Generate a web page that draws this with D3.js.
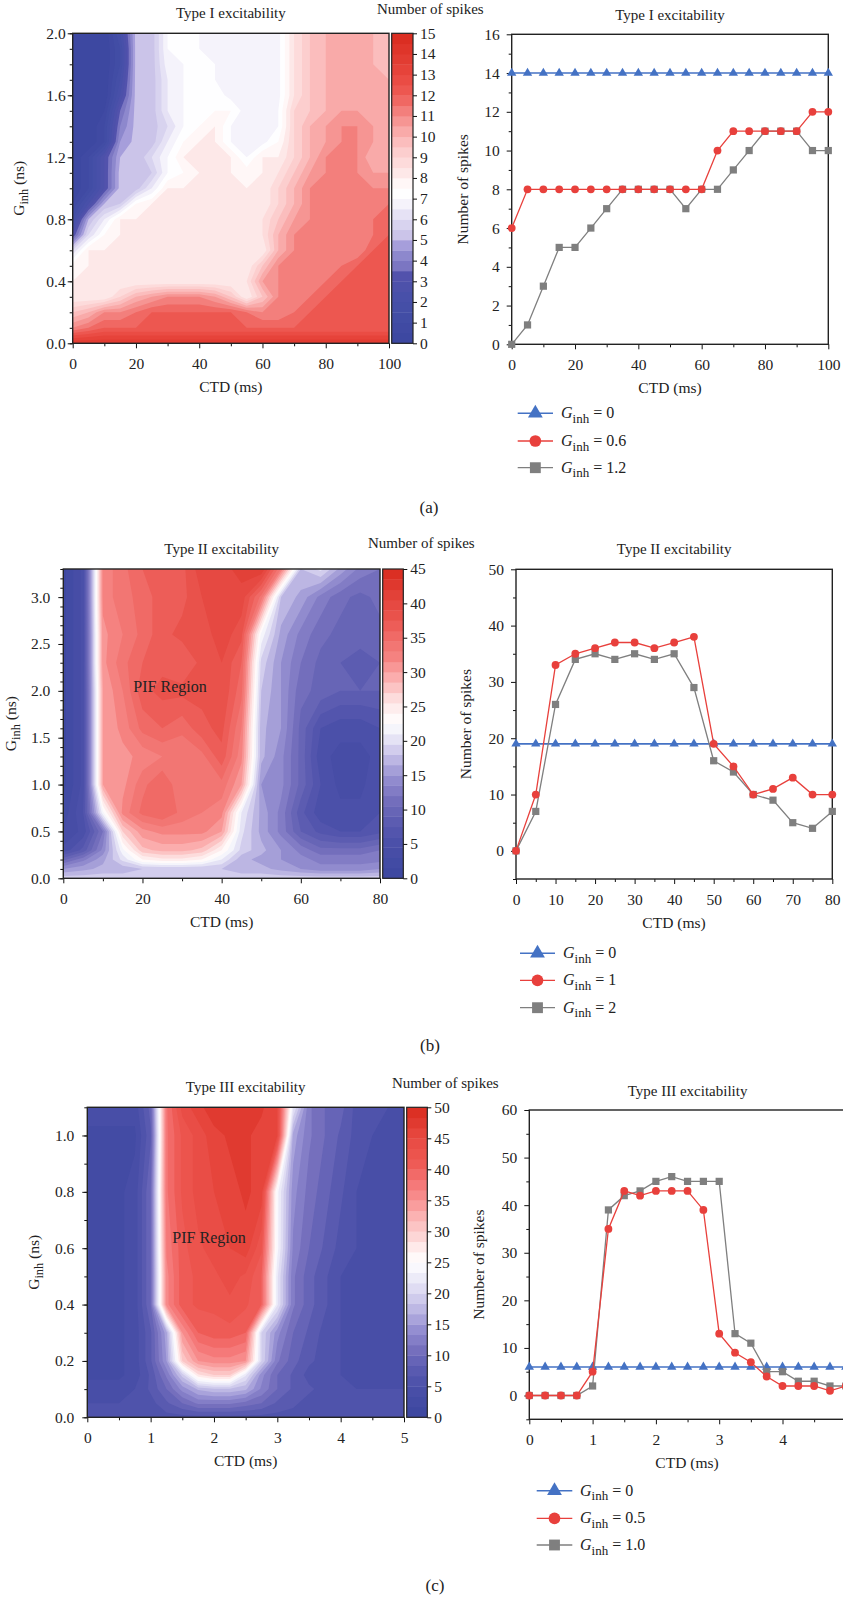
<!DOCTYPE html>
<html>
<head>
<meta charset="utf-8">
<script src="https://cdn.jsdelivr.net/npm/d3@7"></script>
<style>
  body { margin: 0; background: #fff; }
  svg { display: block; }
</style>
</head>
<body>
<svg id="fig" width="843" height="1600"></svg>
<script>
// ---------- Panel (a): Type I excitability ----------
const ctdA = [0, 5, 10, 15, 20, 25, 30, 35, 40, 45, 50, 55, 60, 65, 70, 75, 80, 85, 90, 95, 100];
const spikesA_0 = [14, 14, 14, 14, 14, 14, 14, 14, 14, 14, 14, 14, 14, 14, 14, 14, 14, 14, 14, 14, 14];
const spikesA_06 = [6, 8, 8, 8, 8, 8, 8, 8, 8, 8, 8, 8, 8, 10, 11, 11, 11, 11, 11, 12, 12];
const spikesA_12 = [0, 1, 3, 5, 5, 6, 7, 8, 8, 8, 8, 7, 8, 8, 9, 10, 11, 11, 11, 10, 10];
const ginhA = [0, 0.1, 0.2, 0.3, 0.4, 0.5, 0.6, 0.7, 0.8, 0.9, 1.0, 1.1, 1.2, 1.3, 1.4, 1.5, 1.6, 1.7, 1.8, 1.9, 2.0];
const heatA = [
  [14, 14, 14, 14, 14, 14, 14, 14, 14, 14, 14, 14, 14, 14, 14, 14, 14, 14, 14, 14, 14],
  [11, 11.5, 12, 12, 12, 12, 12, 12, 12, 12, 12, 12, 12, 12, 12, 12, 12, 12, 12, 12, 12],
  [9.5, 10, 11, 11, 11.5, 12, 12, 12, 12, 12, 12, 11.5, 11, 11, 11.5, 12, 12, 12, 12, 12, 12],
  [8, 8, 8, 9, 10, 10.5, 11, 11, 11, 10.5, 9.5, 8, 9.5, 11, 11, 11.5, 12, 12, 12, 12, 12],
  [8, 8, 8, 8, 8, 8, 8, 8, 8, 8, 8, 8.5, 10.5, 11, 11, 11, 11.5, 12, 12, 12, 12],
  [7.8, 8, 8, 8, 8, 8, 8, 8, 8, 8, 8, 8, 9.5, 11, 11, 11, 11, 11.5, 12, 12, 12],
  [6, 8, 8, 8, 8, 8, 8, 8, 8, 8, 8, 8, 8, 10, 11, 11, 11, 11, 11, 12, 12],
  [3, 6, 7.5, 8, 8, 8, 8, 8, 8, 8, 8, 8, 8.5, 10, 11, 11, 11, 11, 11, 11.5, 12],
  [1.5, 5, 6.5, 8, 8, 8, 8, 8, 8, 8, 8, 8, 8.5, 9.5, 10.5, 11, 11, 11, 11, 11.5, 12],
  [0.5, 2.5, 5, 5.5, 7.5, 8, 8, 8, 8, 8, 8, 8, 8, 9, 10, 11, 11, 11, 11, 11, 11.5],
  [0, 1, 3, 5.2, 5.2, 6.5, 8, 8, 8, 8, 8, 8, 8, 9, 10, 11, 11, 11, 11, 11, 11],
  [0, 1, 3, 5.2, 5.2, 5.5, 7, 7.5, 8, 8, 8, 7.8, 8, 8.5, 9.5, 10.5, 11, 11, 11, 10.5, 10.5],
  [0, 1, 3, 5, 5, 6, 7, 8, 8, 8, 8, 7, 8, 8, 9, 10, 11, 11, 11, 10, 10],
  [0, 0, 1, 4.5, 5.2, 5.2, 6.5, 7.5, 8, 8, 7, 6.8, 6.8, 7.5, 9, 10, 10.5, 11, 11, 10.5, 10],
  [0, 0, 1, 4, 5.2, 5.2, 6, 7, 7.5, 8, 7, 6.7, 6.7, 7, 9, 10, 10.5, 11, 11, 10.5, 10],
  [0, 0, 0.5, 3.5, 5.2, 5.2, 6.5, 7, 7, 7.5, 7.5, 6.7, 6.7, 7, 9, 9.5, 10, 10.5, 10.5, 10, 10],
  [0, 0, 0, 2.5, 5.2, 5.2, 6.5, 7, 7, 7.3, 6.8, 6.7, 6.7, 6.8, 8.5, 9.5, 10, 10, 10, 10, 10],
  [0, 0, 0, 2, 5.2, 5.2, 6.5, 7, 7, 7, 6.8, 6.7, 6.7, 6.8, 8.5, 9.5, 10, 10, 10, 10, 10],
  [0, 0, 0, 1.5, 5.2, 5.2, 6.8, 7, 7, 7, 6.8, 6.7, 6.7, 6.8, 8.5, 9.5, 10, 10.3, 10.3, 10, 9.5],
  [0, 0, 0, 1.5, 5.2, 5.2, 7, 7, 7, 6.9, 6.8, 6.7, 6.7, 6.8, 8.5, 9.5, 10, 10.3, 10.3, 10, 9.5],
  [0, 0, 0, 2, 5.2, 5.2, 7, 7, 7, 6.9, 6.8, 6.7, 6.7, 6.8, 8.5, 9.5, 10, 10.3, 10.3, 10, 9.5]
];
const cbStopsA = [0, 2, 3.3, 3.6, 4.2, 4.8, 5, 6, 6.8, 7.3, 7.8, 8.3, 9.2, 10, 11, 12, 13, 15];
const cbColorsA = ['#3c47a0', '#4650a8', '#5252ac', '#7670be', '#8a86cc', '#a8a0dc', '#c4bce6', '#dedaf2', '#f6f5fc',
  '#ffffff', '#fff6f6', '#fde6e6', '#fcd0d0', '#fab4b4', '#f48a88', '#ee5c56', '#e8463e', '#d92b1e'];

// ---------- Panel (b): Type II excitability ----------
const ctdB = [0, 5, 10, 15, 20, 25, 30, 35, 40, 45, 50, 55, 60, 65, 70, 75, 80];
const spikesB_0 = [19, 19, 19, 19, 19, 19, 19, 19, 19, 19, 19, 19, 19, 19, 19, 19, 19];
const spikesB_1 = [0, 10, 33, 35, 36, 37, 37, 36, 37, 38, 19, 15, 10, 11, 13, 10, 10];
const spikesB_2 = [0, 7, 26, 34, 35, 34, 35, 34, 35, 29, 16, 14, 10, 9, 5, 4, 7];
const ginhB = [0, 0.1, 0.2, 0.3, 0.5, 0.7, 1.0, 1.3, 1.6, 2.0, 2.3, 2.6, 3.0, 3.3];
const heatB = [
  [19, 19, 19, 19, 19, 19, 19, 19, 19, 19, 19, 19, 19, 19, 19, 19, 19],
  [15, 16, 17, 17, 18, 18, 18, 18, 18, 17, 17, 16, 15, 14, 14, 14, 15],
  [10, 13, 16, 20, 24, 25, 25, 24, 21, 17, 16, 15, 14, 13, 13, 13, 13],
  [5, 8, 14, 22, 28, 29, 29, 28, 24, 19, 17, 15, 13, 11, 11, 11, 12],
  [3, 5, 12, 27, 31, 32, 32, 32, 30, 20, 16, 13, 9, 7, 6, 6, 7],
  [2, 6, 22, 32, 35, 36, 34, 33, 32, 21, 16, 13, 8, 5, 5, 5, 6],
  [1, 5, 30, 31, 34, 36, 33, 33, 34, 30, 15, 14, 10, 6, 4, 4, 6],
  [1, 5, 30, 31, 32, 33, 33, 34, 37, 32, 17, 14, 10, 5, 4, 4, 5],
  [1, 5, 30, 32, 35, 36, 35, 37, 38, 33, 17, 15, 10, 6, 5, 5, 6],
  [1, 5, 30, 33, 37, 38, 38, 38, 39, 35, 18, 15, 11, 10, 9, 9, 9],
  [1, 5, 31, 34, 36, 37, 36, 38, 39, 36, 19, 15, 12, 10, 9, 8, 9],
  [1, 5, 31, 33, 35, 37, 38, 38, 40, 38, 22, 16, 13, 11, 10, 10, 10],
  [1, 5, 32, 34, 35, 37, 37, 39, 40, 40, 34, 18, 16, 13, 11, 10, 11],
  [1, 5, 32, 34, 36, 37, 37, 40, 40, 41, 42, 33, 18, 20, 16, 13, 12]
];
const cbStopsB = [0, 5, 8, 11, 14, 16, 18, 20, 21.5, 22.5, 24, 26, 28, 30, 32, 35, 38, 41, 45];
const cbColorsB = ['#3c47a0', '#4a4fa8', '#5a5ab0', '#716cbb', '#8e88cc', '#a8a2da', '#c8c2e8', '#e2e0f4', '#f2f1fa',
  '#ffffff', '#fff4f4', '#fde0e0', '#fcc0c0', '#faa2a2', '#f58482', '#f06c68', '#ea534c', '#e3423a', '#d92b1e'];

// ---------- Panel (c): Type III excitability ----------
const ctdC = [0, 0.25, 0.5, 0.75, 1, 1.25, 1.5, 1.75, 2, 2.25, 2.5, 2.75, 3, 3.25, 3.5, 3.75, 4, 4.25, 4.5, 4.75, 5];
const spikesC_0 = [6, 6, 6, 6, 6, 6, 6, 6, 6, 6, 6, 6, 6, 6, 6, 6, 6, 6, 6, 6, 6];
const spikesC_05 = [0, 0, 0, 0, 5, 35, 43, 42, 43, 43, 43, 39, 13, 9, 7, 4, 2, 2, 2, 1, 2];
const spikesC_10 = [0, 0, 0, 0, 2, 39, 42, 43, 45, 46, 45, 45, 45, 13, 11, 5, 5, 3, 3, 2, 2];
const ginhC = [0, 0.05, 0.1, 0.15, 0.2, 0.3, 0.4, 0.5, 0.6, 0.8, 1.0, 1.1];
const heatC = [
  [6, 6, 6, 6, 6, 6, 6, 6, 6, 6, 6, 6, 6, 6, 6, 6, 6, 6, 6, 6, 6],
  [5, 5, 5, 5, 6, 8, 10, 12, 12, 12, 11, 10, 8, 7, 6, 6, 5, 5, 5, 5, 5],
  [4, 4, 4, 5, 7, 10, 14, 17, 18, 18, 17, 13, 10, 8, 7, 6, 5, 5, 5, 5, 5],
  [3, 3, 3, 4, 7, 12, 19, 28, 30, 30, 22, 14, 10, 8, 6, 5, 5, 4, 4, 4, 4],
  [3, 3, 3, 4, 8, 15, 30, 35, 36, 36, 35, 20, 12, 9, 7, 6, 5, 4, 4, 4, 4],
  [3, 3, 3, 4, 8, 16, 35, 40, 41, 41, 40, 20, 14, 10, 8, 6, 5, 4, 4, 4, 4],
  [3, 3, 3, 4, 10, 36, 41, 42, 42, 43, 42, 40, 22, 12, 9, 7, 5, 4, 4, 4, 4],
  [3, 3, 3, 4, 10, 36, 41, 42, 43, 44, 43, 40, 22, 12, 9, 7, 5, 4, 4, 4, 4],
  [3, 3, 3, 4, 10, 37, 41, 43, 44, 45, 46, 42, 24, 13, 10, 8, 6, 5, 4, 4, 4],
  [3, 3, 3, 4, 10, 38, 42, 44, 45, 46, 47, 46, 24, 14, 11, 9, 7, 5, 4, 4, 4],
  [3, 3, 3, 3, 8, 38, 42, 44, 46, 47, 47, 46, 45, 16, 12, 10, 8, 6, 5, 4, 4],
  [4, 4, 4, 4, 9, 38, 44, 46, 48, 48, 48, 47, 45, 22, 12, 10, 9, 6, 5, 5, 4]
];
const cbStopsC = [0, 5, 8, 11, 14, 17, 20, 23, 25, 27, 29, 32, 35, 38, 41, 45, 50];
const cbColorsC = ['#3c47a0', '#4a4fa8', '#5c5cb2', '#7670be', '#928cd0', '#b8b2e2', '#d8d4f0', '#f0effa',
  '#ffffff', '#fff0f0', '#fdd8d8', '#fcb8b8', '#f89292', '#f47474', '#ee5a54', '#e84a42', '#d92b1e'];

// ---------- drawing ----------
const FONT = '"Liberation Serif", "DejaVu Serif", serif';
const svg = d3.select('#fig').attr('font-family', FONT);
const TICK_FS = 15.5;

function styleAxis(sel) {
  sel.attr('font-family', null).attr('font-size', null);
  sel.select('.domain').remove();
  sel.selectAll('line').attr('stroke', '#111').attr('stroke-width', 1);
  sel.selectAll('text').attr('font-family', FONT).attr('font-size', TICK_FS).attr('fill', '#222');
}

// box axes with major (labelled) and minor ticks + frame
function boxAxes(g, x, y, box, o) {
  g.append('g').attr('transform', `translate(0,${box.y1})`)
    .call(d3.axisBottom(x).tickValues(o.xMinor).tickSize(3).tickFormat('')).call(styleAxis);
  g.append('g').attr('transform', `translate(0,${box.y1})`)
    .call(d3.axisBottom(x).tickValues(o.xTicks).tickSize(5).tickPadding(10).tickFormat(o.xFmt)).call(styleAxis);
  g.append('g').attr('transform', `translate(${box.x0},0)`)
    .call(d3.axisLeft(y).tickValues(o.yMinor).tickSize(3).tickFormat('')).call(styleAxis);
  g.append('g').attr('transform', `translate(${box.x0},0)`)
    .call(d3.axisLeft(y).tickValues(o.yTicks).tickSize(5).tickPadding(o.yPad).tickFormat(o.yFmt)).call(styleAxis);
  g.append('rect')
    .attr('x', box.x0).attr('y', box.y0)
    .attr('width', box.x1 - box.x0).attr('height', box.y1 - box.y0)
    .attr('fill', 'none').attr('stroke', '#222').attr('stroke-width', 1.4);
}

function ginhLabel(g, cx, cy, fs) {
  const t = g.append('text')
    .attr('transform', `translate(${cx},${cy}) rotate(-90)`)
    .attr('text-anchor', 'middle').attr('font-size', fs).attr('fill', '#222');
  t.append('tspan').text('G');
  t.append('tspan').attr('dy', 4).attr('font-size', fs * 0.8).text('inh');
  t.append('tspan').attr('dy', -4).text(' (ns)');
}

function heatmap(p) {
  const g = svg.append('g');
  const box = p.box;
  const x = d3.scaleLinear().domain(p.xDomain).range([box.x0, box.x1]);
  const y = d3.scaleLinear().domain(p.yDomain).range([box.y1, box.y0]);
  const n = p.ctd.length, m = p.rows.length;
  const nb = 30, step = p.vmax / nb;
  const thr = d3.range(nb).map(i => i * step);
  const color = d3.scaleLinear().domain(p.stops).range(p.colors).clamp(true);

  // grid index -> data coordinates (rows may be unevenly spaced)
  const colToX = d3.scaleLinear().domain([0, n - 1]).range([p.ctd[0], p.ctd[n - 1]]);
  const rowToY = d3.scaleLinear().domain(d3.range(m)).range(p.rows);
  const proj = d3.geoTransform({
    point(px, py) {
      const ci = Math.max(0, Math.min(n - 1, px - 0.5));
      const ri = Math.max(0, Math.min(m - 1, py - 0.5));
      this.stream.point(x(colToX(ci)), y(rowToY(ri)));
    }
  });
  const bands = d3.contours().size([n, m]).thresholds(thr)(p.grid.flat());
  g.append('g').selectAll('path').data(bands).join('path')
    .attr('d', d3.geoPath(proj))
    .attr('fill', d => color(d.value + step / 2));

  boxAxes(g, x, y, box, p.axes);

  // colour bar
  const cy = d3.scaleLinear().domain([0, p.vmax]).range([box.y1, box.y0]);
  const cb = g.append('g');
  cb.selectAll('rect').data(thr).join('rect')
    .attr('x', p.cbar[0]).attr('width', p.cbar[1] - p.cbar[0])
    .attr('y', d => cy(d + step)).attr('height', d => cy(d) - cy(d + step) + 0.4)
    .attr('fill', d => color(d + step / 2));
  cb.append('rect')
    .attr('x', p.cbar[0]).attr('y', box.y0)
    .attr('width', p.cbar[1] - p.cbar[0]).attr('height', box.y1 - box.y0)
    .attr('fill', 'none').attr('stroke', '#222').attr('stroke-width', 1.2);
  cb.append('g').attr('transform', `translate(${p.cbar[1]},0)`)
    .call(d3.axisRight(cy).tickValues(p.cbTicks).tickSize(4).tickPadding(3)).call(styleAxis);

  // texts
  g.append('text').attr('x', (box.x0 + box.x1) / 2).attr('y', p.titleY)
    .attr('text-anchor', 'middle').attr('font-size', 15).attr('fill', '#222').text(p.title);
  g.append('text').attr('x', p.cbTitle[0]).attr('y', p.cbTitle[1])
    .attr('font-size', 15).attr('fill', '#222').text('Number of spikes');
  g.append('text').attr('x', (box.x0 + box.x1) / 2).attr('y', box.y1 + 49)
    .attr('text-anchor', 'middle').attr('font-size', 15.5).attr('fill', '#222').text('CTD (ms)');
  ginhLabel(g, p.yLabelX, (box.y0 + box.y1) / 2, 15.5);
  if (p.pif) {
    g.append('text').attr('x', p.pif[0]).attr('y', p.pif[1])
      .attr('text-anchor', 'middle').attr('font-size', 16).attr('fill', '#222').text('PIF Region');
  }
}

const MARK = {
  tri: { type: d3.symbolTriangle, size: 38, legend: 95, color: '#4472c4', width: 1.6 },
  circ: { type: d3.symbolCircle, size: 48, legend: 108, color: '#e8403c', width: 1.3 },
  sq: { type: d3.symbolSquare, size: 52, legend: 118, color: '#7f7f7f', width: 1.3 }
};

function lineChart(p) {
  const g = svg.append('g');
  const box = p.box;
  const x = d3.scaleLinear().domain(p.xDomain).range([box.x0, box.x1]);
  const y = d3.scaleLinear().domain(p.yDomain).range([box.y1, box.y0]);
  boxAxes(g, x, y, box, p.axes);

  const order = [0, 2, 1]; // blue, grey, red on top
  order.forEach(k => {
    const s = p.series[k];
    const mk = MARK[s.mark];
    g.append('path').datum(s.values)
      .attr('d', d3.line().x((d, i) => x(p.ctd[i])).y(d => y(d)))
      .attr('fill', 'none').attr('stroke', mk.color).attr('stroke-width', mk.width);
    g.append('g').selectAll('path').data(s.values).join('path')
      .attr('transform', (d, i) => `translate(${x(p.ctd[i])},${y(d)})`)
      .attr('d', d3.symbol().type(mk.type).size(mk.size))
      .attr('fill', mk.color);
  });

  g.append('text').attr('x', (box.x0 + box.x1) / 2).attr('y', p.titleY)
    .attr('text-anchor', 'middle').attr('font-size', 15).attr('fill', '#222').text(p.title);
  g.append('text').attr('x', p.xLabel[0]).attr('y', box.y1 + 49)
    .attr('text-anchor', 'middle').attr('font-size', 15.5).attr('fill', '#222').text('CTD (ms)');
  g.append('text')
    .attr('transform', `translate(${p.yLabelX},${(box.y0 + box.y1) / 2}) rotate(-90)`)
    .attr('text-anchor', 'middle').attr('font-size', 15.5).attr('fill', '#222').text('Number of spikes');

  // legend
  const lg = g.append('g');
  p.series.forEach((s, i) => {
    const mk = MARK[s.mark];
    const ly = p.legend.rows[i];
    lg.append('line').attr('x1', p.legend.x0).attr('x2', p.legend.x1).attr('y1', ly).attr('y2', ly)
      .attr('stroke', mk.color).attr('stroke-width', mk.width);
    lg.append('path').attr('transform', `translate(${(p.legend.x0 + p.legend.x1) / 2},${ly})`)
      .attr('d', d3.symbol().type(mk.type).size(mk.legend)).attr('fill', mk.color);
    const t = lg.append('text').attr('x', p.legend.tx).attr('y', ly + 5)
      .attr('font-size', 16).attr('fill', '#222');
    t.append('tspan').attr('font-style', 'italic').text('G');
    t.append('tspan').attr('dy', 4.5).attr('font-size', 13).text('inh');
    t.append('tspan').attr('dy', -4.5).text(' = ' + s.label);
  });
}

function panelTag(txt, x, y) {
  svg.append('text').attr('x', x).attr('y', y).attr('text-anchor', 'middle')
    .attr('font-size', 17).attr('fill', '#222').text(txt);
}

const fmt1 = d3.format('.1f');
const fmtD = d3.format('d');

// (a)
heatmap({
  box: { x0: 72.7, x1: 389, y0: 33.3, y1: 343.3 },
  ctd: ctdA, rows: ginhA, grid: heatA, xDomain: [0, 100], yDomain: [0, 2.0],
  vmax: 15, stops: cbStopsA, colors: cbColorsA,
  cbar: [391.7, 413], cbTicks: d3.range(0, 16),
  axes: { xTicks: [0, 20, 40, 60, 80, 100], xMinor: [10, 30, 50, 70, 90], xFmt: fmtD,
    yTicks: [0, 0.4, 0.8, 1.2, 1.6, 2.0], yMinor: d3.range(0, 2.01, 0.1), yFmt: fmt1, yPad: 2 },
  title: 'Type I excitability', titleY: 18, cbTitle: [377, 14], yLabelX: 24
});
lineChart({
  box: { x0: 511.7, x1: 828.3, y0: 34.3, y1: 344.3 },
  ctd: ctdA, xDomain: [0, 100], yDomain: [0, 16],
  axes: { xTicks: [0, 20, 40, 60, 80, 100], xMinor: [10, 30, 50, 70, 90], xFmt: fmtD,
    yTicks: [0, 2, 4, 6, 8, 10, 12, 14, 16], yMinor: d3.range(1, 16, 2), yFmt: fmtD, yPad: 7 },
  series: [
    { values: spikesA_0, mark: 'tri', label: '0' },
    { values: spikesA_06, mark: 'circ', label: '0.6' },
    { values: spikesA_12, mark: 'sq', label: '1.2' }
  ],
  title: 'Type I excitability', titleY: 20, xLabel: [670], yLabelX: 468,
  legend: { x0: 517.7, x1: 553, tx: 561, rows: [413.3, 441, 467.7] }
});
panelTag('(a)', 429, 513);

// (b)
heatmap({
  box: { x0: 63.3, x1: 380, y0: 569, y1: 878.3 },
  ctd: ctdB, rows: ginhB, grid: heatB, xDomain: [0, 80], yDomain: [0, 3.3],
  vmax: 45, stops: cbStopsB, colors: cbColorsB,
  cbar: [382.7, 403.3], cbTicks: d3.range(0, 46, 5),
  axes: { xTicks: [0, 20, 40, 60, 80], xMinor: [10, 30, 50, 70], xFmt: fmtD,
    yTicks: [0, 0.5, 1.0, 1.5, 2.0, 2.5, 3.0], yMinor: d3.range(0, 3.31, 0.1), yFmt: fmt1, yPad: 8 },
  title: 'Type II excitability', titleY: 554, cbTitle: [368, 548], yLabelX: 16,
  pif: [170, 692]
});
lineChart({
  box: { x0: 516, x1: 832.3, y0: 569.3, y1: 879 },
  ctd: ctdB, xDomain: [0, 80], yDomain: [-5, 50],
  axes: { xTicks: [0, 10, 20, 30, 40, 50, 60, 70, 80], xMinor: [5, 15, 25, 35, 45, 55, 65, 75], xFmt: fmtD,
    yTicks: [0, 10, 20, 30, 40, 50], yMinor: [-5, 5, 15, 25, 35, 45], yFmt: fmtD, yPad: 7 },
  series: [
    { values: spikesB_0, mark: 'tri', label: '0' },
    { values: spikesB_1, mark: 'circ', label: '1' },
    { values: spikesB_2, mark: 'sq', label: '2' }
  ],
  title: 'Type II excitability', titleY: 554, xLabel: [674], yLabelX: 471,
  legend: { x0: 520, x1: 555, tx: 563, rows: [953.3, 980.3, 1007.7] }
});
panelTag('(b)', 430, 1051);

// (c)
heatmap({
  box: { x0: 87.3, x1: 404, y0: 1107.3, y1: 1417.3 },
  ctd: ctdC, rows: ginhC, grid: heatC, xDomain: [0, 5], yDomain: [0, 1.1],
  vmax: 50, stops: cbStopsC, colors: cbColorsC,
  cbar: [406.7, 427.3], cbTicks: d3.range(0, 51, 5),
  axes: { xTicks: [0, 1, 2, 3, 4, 5], xMinor: [0.5, 1.5, 2.5, 3.5, 4.5], xFmt: fmtD,
    yTicks: [0, 0.2, 0.4, 0.6, 0.8, 1.0], yMinor: d3.range(0, 1.11, 0.1), yFmt: fmt1, yPad: 8 },
  title: 'Type III excitability', titleY: 1091.5, cbTitle: [392, 1088], yLabelX: 39,
  pif: [209, 1243]
});
lineChart({
  box: { x0: 529.3, x1: 845.8, y0: 1110, y1: 1419.3 },
  ctd: ctdC, xDomain: [0, 5], yDomain: [-5, 60],
  axes: { xTicks: [0, 1, 2, 3, 4], xMinor: [0.5, 1.5, 2.5, 3.5, 4.5], xFmt: fmtD,
    yTicks: [0, 10, 20, 30, 40, 50, 60], yMinor: [-5, 5, 15, 25, 35, 45, 55], yFmt: fmtD, yPad: 7 },
  series: [
    { values: spikesC_0, mark: 'tri', label: '0' },
    { values: spikesC_05, mark: 'circ', label: '0.5' },
    { values: spikesC_10, mark: 'sq', label: '1.0' }
  ],
  title: 'Type III excitability', titleY: 1095.5, xLabel: [687], yLabelX: 484,
  legend: { x0: 536.7, x1: 572.3, tx: 580, rows: [1490.7, 1518.3, 1545] }
});
panelTag('(c)', 435, 1591);
</script>
</body>
</html>
